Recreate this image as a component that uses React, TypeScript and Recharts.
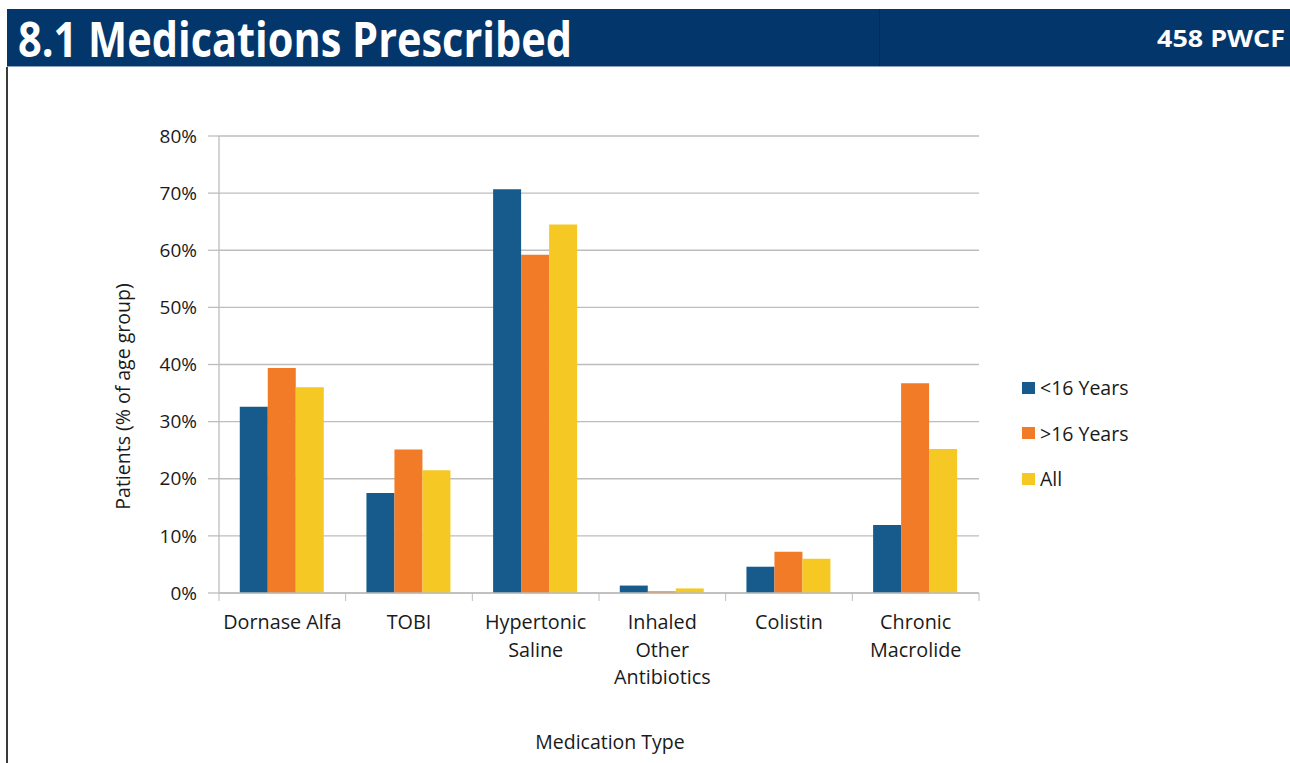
import { BarChart, Bar, XAxis, YAxis, CartesianGrid, Legend } from 'recharts';

// Medication types (line breaks mark where the axis label wraps)
const categories = [
  'Dornase Alfa',
  'TOBI',
  'Hypertonic\nSaline',
  'Inhaled\nOther\nAntibiotics',
  'Colistin',
  'Chronic\nMacrolide',
];

// % of patients in each age group
const under16 = [32.6, 17.5, 70.7, 1.3, 4.6, 11.9];
const over16 = [39.4, 25.1, 59.2, 0.3, 7.2, 36.7];
const allPatients = [36.0, 21.5, 64.5, 0.8, 6.0, 25.2];

const seriesNames = ['<16 Years', '>16 Years', 'All'];
const seriesColors = ['#175b8c', '#f27b27', '#f5c824'];
const yTicks = [0, 10, 20, 30, 40, 50, 60, 70, 80];

const data = categories.map((name, i) => ({
  name,
  under16: under16[i],
  over16: over16[i],
  all: allPatients[i],
}));

const FONT = '"Open Sans", "DejaVu Sans", sans-serif';
const AXIS_COLOR = '#bdbdbd';
const TEXT_COLOR = '#1a1a1a';

function CategoryTick(props: any) {
  const { x, y, payload } = props;
  const lines = String(payload.value).split('\n');
  const half = payload.offset ?? 63.3;
  const isLast = payload.index === categories.length - 1;
  return (
    <g>
      <line x1={x - half} x2={x - half} y1={y} y2={y + 8} stroke={AXIS_COLOR} />
      {isLast && <line x1={x + half} x2={x + half} y1={y} y2={y + 8} stroke={AXIS_COLOR} />}
      <text x={x} y={y + 36} textAnchor="middle" fontSize={19.8} fill={TEXT_COLOR} fontFamily={FONT}>
        {lines.map((line, i) => (
          <tspan key={i} x={x} dy={i === 0 ? 0 : 27.5}>
            {line}
          </tspan>
        ))}
      </text>
    </g>
  );
}

function LegendBox() {
  return (
    <div style={{ fontFamily: FONT, fontSize: 19.5, color: TEXT_COLOR }}>
      {seriesNames.map((name, i) => (
        <div key={name} style={{ display: 'flex', alignItems: 'center', height: 45.5 }}>
          <span
            style={{ display: 'inline-block', width: 13, height: 12, background: seriesColors[i], marginRight: 5 }}
          />
          <span>{name}</span>
        </div>
      ))}
    </div>
  );
}

export default function App() {
  return (
    <div style={{ position: 'absolute', left: 0, top: 0, width: 1290, height: 763, background: '#fff', overflow: 'hidden' }}>
      {/* header band */}
      <div style={{ position: 'absolute', left: 7, top: 9, width: 1283, height: 58, background: '#03366a' }} />
      <div style={{ position: 'absolute', left: 7, top: 66, width: 1283, height: 1, background: '#8aa0bb' }} />
      <div style={{ position: 'absolute', left: 879, top: 9, width: 1, height: 57, background: '#16263d' }} />
      <svg style={{ position: 'absolute', left: 0, top: 0 }} width={1290} height={90}>
        <text
          x={18}
          y={57}
          fill="#fff"
          fontFamily={FONT}
          fontWeight={700}
          fontSize={48}
          textLength={554}
          lengthAdjust="spacingAndGlyphs"
        >
          8.1 Medications Prescribed
        </text>
        <text
          x={1157}
          y={47}
          fill="#fff"
          fontFamily={FONT}
          fontWeight={700}
          fontSize={23}
          textLength={128}
          lengthAdjust="spacingAndGlyphs"
        >
          458 PWCF
        </text>
      </svg>
      {/* left page border */}
      <div style={{ position: 'absolute', left: 6, top: 67, width: 2, height: 696, background: '#3a3a3a' }} />

      <div style={{ position: 'absolute', left: 0, top: 0 }}>
        <BarChart
          width={1290}
          height={763}
          data={data}
          margin={{ top: 136, right: 311, bottom: 0, left: 27 }}
          barCategoryGap="16.4%"
          barGap={0}
        >
          <CartesianGrid vertical={false} stroke={AXIS_COLOR} strokeWidth={1.3} />
          <XAxis
            dataKey="name"
            height={170}
            interval={0}
            tickLine={false}
            tickSize={0}
            tickMargin={0}
            axisLine={{ stroke: AXIS_COLOR, strokeWidth: 1.3 }}
            tick={<CategoryTick />}
            label={{
              value: 'Medication Type',
              position: 'insideBottom',
              offset: 14,
              dx: 11,
              fontSize: 19.5,
              fill: TEXT_COLOR,
              fontFamily: FONT,
            }}
          />
          <YAxis
            width={192}
            domain={[0, 80]}
            ticks={yTicks}
            interval={0}
            tickSize={11}
            tickMargin={11}
            tickFormatter={(v: number) => `${v}%`}
            tick={{ fontSize: 19, fill: TEXT_COLOR, fontFamily: FONT }}
            tickLine={{ stroke: AXIS_COLOR, strokeWidth: 1.3 }}
            axisLine={{ stroke: AXIS_COLOR, strokeWidth: 1.3 }}
            label={{
              value: 'Patients (% of age group)',
              angle: -90,
              position: 'center',
              dy: 32,
              fontSize: 19.5,
              fill: TEXT_COLOR,
              fontFamily: FONT,
            }}
          />
          <Legend
            layout="vertical"
            align="center"
            verticalAlign="middle"
            wrapperStyle={{ left: 1022, top: 365, width: 180 }}
            content={<LegendBox />}
          />
          <Bar dataKey="under16" name={seriesNames[0]} fill={seriesColors[0]} isAnimationActive={false} />
          <Bar dataKey="over16" name={seriesNames[1]} fill={seriesColors[1]} isAnimationActive={false} />
          <Bar dataKey="all" name={seriesNames[2]} fill={seriesColors[2]} isAnimationActive={false} />
        </BarChart>
      </div>
    </div>
  );
}
